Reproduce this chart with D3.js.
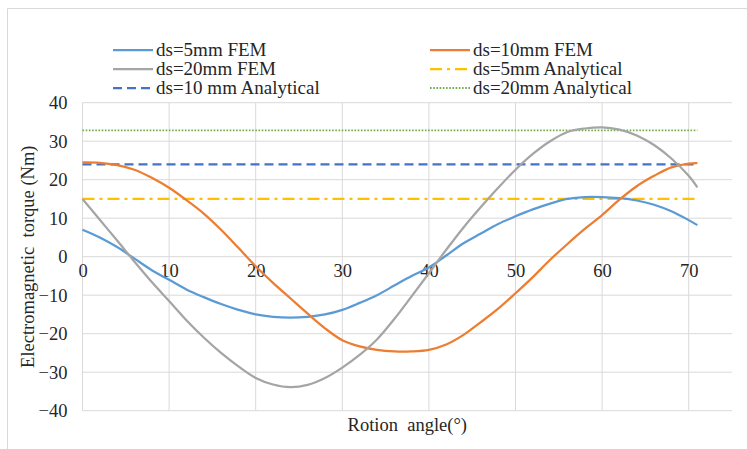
<!DOCTYPE html>
<html><head><meta charset="utf-8">
<script src="https://cdn.jsdelivr.net/npm/d3@7"></script>
<style>
html,body{margin:0;padding:0;background:#fff;}
svg text{font-family:"Liberation Serif","Times New Roman",serif !important;fill:#262626;white-space:pre;}
</style></head>
<body>
<svg id="c" width="747" height="449"></svg>
<script>
const angles = [0,2,4,6,8,10,12,14,16,18,20,22,24,26,28,30,32,34,36,38,40,42,44,46,48,50,52,54,56,58,60,62,64,66,68,70,71];
const fem5  = [7.0,5.0,2.5,-0.5,-3.5,-6.0,-8.5,-10.5,-12.3,-13.8,-15.0,-15.6,-15.8,-15.6,-15.0,-13.8,-12.0,-10.0,-7.5,-5.0,-2.8,0.3,3.5,6.0,8.5,10.5,12.3,13.8,15.0,15.5,15.5,15.2,14.6,13.5,11.8,9.5,8.2];
const fem10 = [24.5,24.4,23.8,22.6,20.5,17.9,14.7,11.2,7.0,2.3,-2.5,-6.8,-10.8,-14.8,-18.6,-21.7,-23.3,-24.2,-24.6,-24.6,-24.2,-22.8,-20.3,-17.0,-13.5,-9.5,-5.3,-0.8,3.3,7.2,10.8,14.8,18.3,21.0,23.2,24.2,24.3];
const fem20 = [15.0,9.6,4.2,-1.3,-6.6,-11.5,-16.5,-21.0,-25.0,-28.5,-31.5,-33.2,-33.9,-33.3,-31.5,-28.8,-25.5,-21.5,-16.2,-10.3,-4.3,1.8,7.6,12.9,17.9,22.6,26.7,30.0,32.4,33.3,33.6,33.0,31.5,29.0,25.5,21.0,18.0];
const anaRange = [0,71];
const ana5 = 15.0, ana10 = 24.0, ana20 = 32.8;
const xTicks = [0,10,20,30,40,50,60,70];
const yTicks = [-40,-30,-20,-10,0,10,20,30,40];
const xTitle = "Rotion  angle(°)";
const yTitle = "Electromagnetic  torque (Nm)";

const svg = d3.select("#c");
const L=82.5, R=732, T=102.7, B=410.7;
const x = d3.scaleLinear().domain([0,75]).range([L,R]);
const y = d3.scaleLinear().domain([-40,40]).range([B,T]);
const FONT = '"Liberation Serif","Times New Roman",serif';
const FS = 18.5;

// chart border (top & left)
svg.append("line").attr("x1",7.5).attr("x2",747).attr("y1",8.5).attr("y2",8.5).attr("stroke","#d9d9d9");
svg.append("line").attr("x1",7.5).attr("x2",7.5).attr("y1",8.5).attr("y2",449).attr("stroke","#d9d9d9");

// gridlines
const g = svg.append("g");
g.selectAll(".hg").data(yTicks).join("line")
  .attr("x1",L).attr("x2",R).attr("y1",d=>y(d)).attr("y2",d=>y(d))
  .attr("stroke","#d9d9d9").attr("stroke-width",1);
g.selectAll(".vg").data(xTicks).join("line")
  .attr("x1",d=>x(d)).attr("x2",d=>x(d)).attr("y1",T).attr("y2",B)
  .attr("stroke","#d9d9d9").attr("stroke-width",1);

// axes labels via d3 axes
const yAxis = svg.append("g").attr("transform",`translate(${L-15},0)`)
  .call(d3.axisLeft(y).tickValues(yTicks).tickSize(0).tickPadding(0));
yAxis.attr("font-family",FONT);
yAxis.select(".domain").remove();
yAxis.selectAll("text").attr("font-size",FS).style("font-family",FONT).attr("fill","#262626").attr("dy","0.34em");

const xAxis = svg.append("g").attr("transform",`translate(0,${y(0)+14})`)
  .call(d3.axisBottom(x).tickValues(xTicks).tickSize(0).tickPadding(0));
xAxis.attr("font-family",FONT);
xAxis.select(".domain").remove();
xAxis.selectAll("text").attr("font-size",FS).style("font-family",FONT).attr("fill","#262626").attr("dy","0.34em").attr("y",0);

// titles
svg.append("text").attr("x",(L+R)/2).attr("y",431).attr("text-anchor","middle").attr("font-size",FS).style("font-family",FONT).text(xTitle);
svg.append("text").attr("transform",`translate(34,${(T+B)/2}) rotate(-90)`).attr("text-anchor","middle").attr("font-size",FS).style("font-family",FONT).text(yTitle);

// series
const line = d3.line().x(d=>x(d[0])).y(d=>y(d[1])).curve(d3.curveCatmullRom.alpha(0.5));
const series = [
  {name:"ds=5mm FEM", vals:fem5, color:"#5B9BD5"},
  {name:"ds=10mm FEM", vals:fem10, color:"#ED7D31"},
  {name:"ds=20mm FEM", vals:fem20, color:"#A5A5A5"},
];
const anal = [
  {name:"ds=5mm Analytical", v:ana5, color:"#FFC000", dash:"12,5,3,5", w:2.25},
  {name:"ds=10 mm Analytical", v:ana10, color:"#4472C4", dash:"9,5", w:2.25},
  {name:"ds=20mm Analytical", v:ana20, color:"#70AD47", dash:"1.6,1.6", w:1.8},
];
anal.forEach(a=>{
  svg.append("line").attr("x1",x(anaRange[0])).attr("x2",x(anaRange[1]))
    .attr("y1",y(a.v)).attr("y2",y(a.v))
    .attr("stroke",a.color).attr("stroke-width",a.w).attr("stroke-dasharray",a.dash);
});
series.forEach(s=>{
  svg.append("path").datum(angles.map((a,i)=>[a,s.vals[i]]))
    .attr("d",line).attr("fill","none").attr("stroke",s.color).attr("stroke-width",2.25);
});

// legend
const leg = [
  {s:series[0], x:113, y:50, dash:null, w:2.25},
  {s:series[1], x:430, y:50, dash:null, w:2.25},
  {s:series[2], x:113, y:69, dash:null, w:2.25},
  {s:anal[0], x:430, y:69, dash:anal[0].dash, w:2.25},
  {s:anal[1], x:113, y:88, dash:anal[1].dash, w:2.25},
  {s:anal[2], x:430, y:88, dash:anal[2].dash, w:1.8},
];
leg.forEach(l=>{
  svg.append("line").attr("x1",l.x).attr("x2",l.x+40).attr("y1",l.y).attr("y2",l.y)
    .attr("stroke",l.s.color).attr("stroke-width",l.w).attr("stroke-dasharray",l.dash);
  svg.append("text").attr("x",l.x+43).attr("y",l.y).attr("dy","0.34em").attr("font-size",19).style("font-family",FONT).text(l.s.name);
});
</script>
</body></html>
